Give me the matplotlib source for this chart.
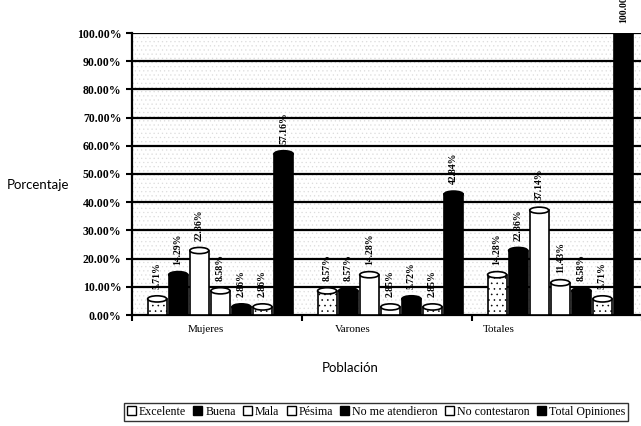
import matplotlib
matplotlib.use("Agg")
import matplotlib.pyplot as plt
from matplotlib.patches import Ellipse, Rectangle, Patch

# data
groups = ["Mujeres", "Varones", "Totales"]
series = ["Excelente", "Buena", "Mala", "Pésima", "No me atendieron",
          "No contestaron", "Total Opiniones"]
excelente = [5.71, 8.57, 14.28]
buena = [14.29, 8.57, 22.86]
mala = [22.86, 14.28, 37.14]
pesima = [8.58, 2.85, 11.43]
no_atendieron = [2.86, 5.72, 8.58]
no_contestaron = [2.86, 2.85, 5.71]
total = [57.16, 42.84, 100.00]
values = [excelente, buena, mala, pesima, no_atendieron, no_contestaron, total]

# looks of the scanned chart
face = ["white", "black", "white", "white", "black", "white", "black"]
hatch = ["...", None, None, None, None, "...", None]
label_x = [-0.065, 0.80, 1.66]   # category names sit a bit left in the scan

plt.rcParams["hatch.linewidth"] = 0.4
fig = plt.figure(figsize=(6.41, 4.26), dpi=100)
ax = fig.add_axes([132/641, 111/426, 1 - 132/641 + 0.012, 282/426])
ax.set_xlim(-0.5, 2.54)
ax.set_ylim(0, 100)

# speckled wall
ax.add_patch(Rectangle((0, 0), 1, 1, transform=ax.transAxes, facecolor="white",
                       edgecolor="#dcdcdc", hatch="....", lw=0, zorder=0))
for y in range(10, 101, 10):
    ax.axhline(y, color="black", lw=1.6, zorder=1)

w = 0.112
step = 0.124
cap = 2.2
for k, vals in enumerate(values):
    for i, v in enumerate(vals):
        x = i + (k - 3) * step + 0.02
        ax.bar(x, v, width=w, color=face[k], edgecolor="black", lw=1.2,
               hatch=hatch[k], zorder=3)
        ax.add_patch(Ellipse((x, v), w, cap, facecolor=face[k],
                             edgecolor="black", lw=1.2, zorder=4))
        ax.text(x, v + 3.5, f"{v:.2f}%", rotation=90, ha="center", va="bottom",
                fontsize=7, fontweight="bold", family="Liberation Serif",
                zorder=5, clip_on=False)

ax.set_yticks(range(0, 101, 10))
ax.set_yticklabels([f"{t:.2f}%" for t in range(0, 101, 10)],
                   family="Liberation Serif", fontweight="bold", fontsize=8.5)
ax.set_xticks([-0.5, 0.5, 1.5, 2.5])
ax.set_xticklabels([])
ax.tick_params(axis="both", width=1.5, length=4, color="black")
for s in ["top", "right"]:
    ax.spines[s].set_visible(False)
ax.spines["left"].set_linewidth(1.6)
ax.spines["bottom"].set_linewidth(1.6)

for xl, g in zip(label_x, groups):
    ax.text(xl, -3.5, g, ha="center", va="top", fontsize=8,
            family="Liberation Serif", transform=ax.transData)

fig.text(350/641, 1 - 368/426, "Población", ha="center", va="center",
         fontsize=9.5, family="Lato")
fig.text(38/641, 1 - 185/426, "Porcentaje", ha="center", va="center",
         fontsize=9.5, family="Lato")

handles = [Patch(facecolor=face[k], edgecolor="black")
           for k in range(len(series))]
leg = fig.legend(handles, series, loc="center", ncol=7,
                 bbox_to_anchor=(376/641, 1 - 412/426), frameon=True,
                 fancybox=False, edgecolor="black", handlelength=0.75,
                 handleheight=0.75, handletextpad=0.25, columnspacing=0.6,
                 borderpad=0.25, prop={"family": "Liberation Serif", "size": 8.6})
leg.get_frame().set_linewidth(1.0)

fig.savefig("out.png", dpi=100)
